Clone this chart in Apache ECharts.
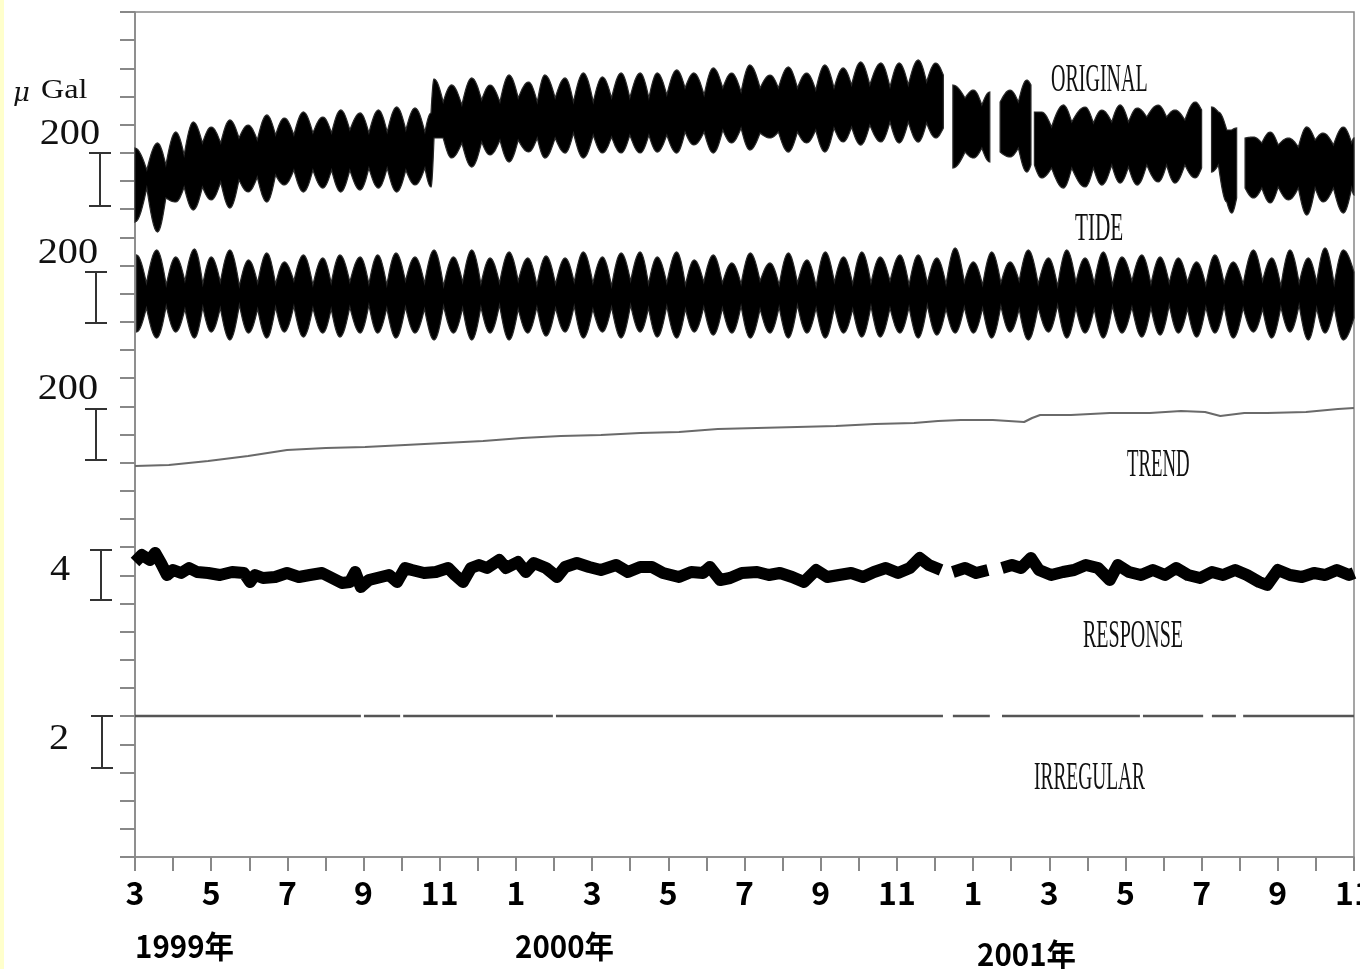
<!DOCTYPE html>
<html><head><meta charset="utf-8">
<script src="https://cdn.jsdelivr.net/npm/echarts@6/dist/echarts.min.js"></script>
<style>html,body{margin:0;padding:0;background:#fff}#c{width:1360px;height:969px}</style>
</head><body><div id="c"></div><script>
// x: months since March 1999 (0..32); y: vertical offset in plot units (0..845)
const monthLabels = ['3','5','7','9','11','1','3','5','7','9','11','1','3','5','7','9','11'];
const yearLabels = ['1999年','2000年','2001年'];
const panelNames = ['ORIGINAL','TIDE','TREND','RESPONSE','IRREGULAR'];
const unitLabel = 'Gal';
const scaleLabels = ['200','200','200','4','2'];
const scaleBarLow  = [651,534,397,257,89];
const scaleBarHigh = [704,585,448,307,141];

// ---- ORIGINAL (envelope of the record) ----
const origT = [0.00,0.31,0.59,0.81,1.07,1.29,1.53,1.77,2.00,2.25,2.49,2.73,2.97,3.21,3.46,3.69,3.92,4.17,4.42,4.67,4.93,5.16,5.40,5.64,5.91,6.14,6.39,6.62,6.87,7.11,7.35,7.61,7.77,7.85,8.09,8.31,8.58,8.84,9.10,9.32,9.58,9.82,10.06,10.33,10.56,10.76,11.03,11.29,11.51,11.77,12.03,12.27,12.51,12.76,12.99,13.26,13.49,13.71,13.96,14.22,14.44,14.67,14.94,15.18,15.43,15.66,15.91,16.14,16.41,16.67,16.89,17.15,17.39,17.63,17.87,18.11,18.35,18.59,18.81,19.05,19.29,19.58,19.82,20.06,20.30,20.56,20.78,21.02,21.22,null,21.47,21.79,22.01,22.23,22.44,null,22.71,22.97,23.19,23.41,23.52,null,23.61,23.80,24.06,24.37,24.59,24.94,25.16,25.38,25.64,25.86,26.08,26.31,26.56,26.86,27.08,27.30,27.56,27.83,28.00,null,28.26,28.44,28.66,28.79,28.92,null,29.14,29.36,29.58,29.80,30.01,30.28,30.54,30.76,30.98,31.19,31.46,31.72,31.94,32.00];
const origHi = [709,687,714,692,725,702,735,714,730,714,737,719,732,717,742,722,739,722,745,724,740,724,747,727,744,724,747,725,750,727,749,725,744,778,755,772,752,779,757,772,755,782,759,775,755,782,759,779,755,784,755,780,759,784,759,784,759,784,762,787,769,784,762,789,769,784,765,792,769,782,769,790,769,784,767,792,769,789,772,795,772,794,770,794,772,797,775,794,782,null,772,759,767,752,765,null,755,767,755,777,772,null,745,745,730,752,735,750,734,747,735,752,735,749,740,752,740,747,737,755,747,null,750,745,727,727,729,null,719,720,714,725,712,719,710,730,717,724,712,730,714,719];
const origLo = [635,669,625,659,655,670,647,670,657,675,649,677,665,680,655,682,672,687,665,687,669,687,665,687,667,689,669,689,665,687,672,689,670,719,719,699,714,690,715,702,717,695,717,705,719,699,719,704,724,699,722,704,720,704,722,704,722,705,722,704,725,712,725,704,727,714,729,707,724,719,725,705,725,714,727,705,729,715,730,712,732,715,735,714,735,715,734,719,729,null,689,705,699,709,695,null,705,700,709,685,692,null,692,679,689,669,689,670,689,672,692,674,690,672,692,675,692,674,692,679,689,null,685,692,655,644,659,null,669,659,669,654,670,657,669,642,669,655,669,644,669,662];

// ---- TIDE (fortnightly lobes and necks of the envelope) ----
const tideLobeT = [0.04,0.57,1.07,1.56,2.00,2.49,2.98,3.46,3.92,4.42,4.93,5.38,5.91,6.37,6.85,7.35,7.85,8.36,8.84,9.32,9.82,10.31,10.79,11.29,11.77,12.27,12.76,13.26,13.71,14.22,14.68,15.18,15.67,16.15,16.67,17.15,17.64,18.12,18.60,19.08,19.56,20.08,20.56,21.05,21.53,22.01,22.49,22.97,23.45,23.98,24.46,24.94,25.42,25.91,26.43,26.91,27.39,27.87,28.35,28.83,29.36,29.84,30.32,30.80,31.24,31.72];
const tideLobeHi = [602,607,600,608,600,607,597,604,595,602,599,602,600,602,604,600,607,600,607,599,605,599,601,599,605,600,604,605,600,605,597,602,594,604,594,604,597,605,600,605,600,602,602,599,609,595,605,595,607,599,607,599,605,600,602,600,599,595,602,595,607,599,607,599,609,607];
const tideLobeLo = [525,519,525,519,525,517,524,519,525,520,524,520,524,524,519,524,517,524,517,524,517,524,521,525,519,525,519,525,520,519,525,522,524,519,524,519,524,519,524,520,520,524,519,522,524,524,519,525,517,525,519,524,519,524,520,522,524,520,524,519,525,519,525,517,524,517];
const tideNeckT = [0.30,0.82,1.31,1.78,2.24,2.74,3.22,3.69,4.17,4.67,5.15,5.64,6.14,6.61,7.10,7.60,8.10,8.60,9.08,9.57,10.06,10.55,11.04,11.53,12.02,12.51,13.01,13.48,13.96,14.45,14.93,15.42,15.91,16.41,16.91,17.39,17.88,18.36,18.84,19.32,19.82,20.32,20.80,21.29,21.77,22.25,22.73,23.21,23.71,24.22,24.70,25.18,25.66,26.17,26.67,27.15,27.63,28.11,28.59,29.09,29.60,30.08,30.56,31.02,31.48,32.00];
const tideNeckHi = [574,572,576,573,575,571,574,573,576,572,574,575,573,572,576,574,571,575,573,574,576,572,573,575,574,571,576,573,574,572,575,574,573,576,572,574,571,575,573,574,576,572,574,573,575,572,574,576,573,571,575,574,572,576,573,574,575,572,574,573,576,571,574,575,573,585];
const tideNeckLo = [549,551,548,550,549,552,548,550,551,549,548,550,552,549,550,548,551,549,550,552,548,550,549,551,548,550,552,549,551,548,550,549,551,548,550,552,549,550,548,551,549,550,552,548,550,549,551,548,550,552,549,548,551,550,549,552,548,550,551,549,548,550,552,549,550,539];

// ---- TREND ----
const trendT = [0.00,0.89,1.92,2.97,3.99,5.01,6.04,7.09,8.11,9.14,10.16,11.18,12.23,13.26,14.28,15.30,16.33,17.38,18.40,19.42,20.45,21.08,21.68,22.52,23.34,23.55,23.76,24.57,25.59,26.64,27.46,28.09,28.49,29.12,29.72,30.74,31.58,32.00];
const trendV = [391,392,396,401,407,409,410,412,414,416,419,421,422,424,425,428,429,430,431,433,434,436,437,437,435,439,442,442,444,444,446,445,441,444,444,445,448,449];

// ---- RESPONSE ----
const respT = [0.00,0.18,0.39,0.53,0.68,0.84,1.00,1.21,1.42,1.63,1.92,2.23,2.55,2.86,3.02,3.15,3.36,3.68,3.99,4.30,4.59,4.91,5.12,5.43,5.64,5.78,5.93,6.14,6.46,6.67,6.88,7.09,7.27,7.59,7.90,8.22,8.40,8.61,8.82,9.03,9.24,9.56,9.74,10.05,10.26,10.47,10.79,11.08,11.29,11.60,11.92,12.23,12.63,12.94,13.26,13.57,13.86,14.28,14.60,14.91,15.09,15.36,15.62,15.93,16.33,16.64,16.93,17.25,17.56,17.88,18.17,18.48,18.80,19.11,19.40,19.71,20.03,20.34,20.60,20.84,21.16,null,21.47,21.79,22.08,22.39,null,22.76,23.02,23.26,23.52,23.73,24.05,24.36,24.65,24.96,25.28,25.59,25.80,26.09,26.41,26.72,27.04,27.33,27.64,27.96,28.27,28.56,28.88,29.19,29.51,29.72,30.00,30.32,30.63,30.95,31.24,31.55,31.87,32.00];
const respV = [295,302,297,304,294,282,287,284,289,285,284,282,285,284,275,282,279,280,284,280,282,284,280,274,275,285,270,277,280,282,275,289,287,284,285,289,282,275,289,292,289,297,289,295,285,294,289,280,290,294,290,287,292,285,290,290,284,280,285,284,290,277,279,284,285,282,284,280,275,287,280,282,284,280,285,289,284,289,299,292,287,null,285,289,284,287,null,289,292,289,299,287,282,285,287,292,289,277,292,285,282,287,282,289,282,279,285,282,287,282,275,272,287,282,280,284,282,287,282,284];

// ---- IRREGULAR ----
const irrT = [0.00,5.93,null,6.01,6.96,null,7.04,10.97,null,11.05,21.21,null,21.47,22.44,null,22.76,26.38,null,26.46,28.04,null,28.27,28.90,null,29.09,32.00];
const irrV = [141,141,null,141,141,null,141,141,null,141,141,null,141,141,null,141,141,null,141,141,null,141,141,null,141,141];

// ---------- layout / style (not data) ----------
const GRID = {left:135, top:12, width:1219, height:845};
const AXIS_COLOR = '#888';
const NUM_FONT = "'Noto Sans CJK JP',sans-serif";
const barX = [100,96,96,101,102];
const panelPos = [[1051,80,0.50],[1075,229,0.53],[1127,465,0.47],[1083,636,0.50],[1034,778,0.485]];
const scaleLabelPos = [[100,135],[98,254],[98,390],[70,571],[69,740]];
const yearPos = [[135,946],[515,946],[977,954]];

function pairs(t, v) { return t.map((x, i) => (x === null || v[i] === null) ? ['-','-'] : [x, v[i]]); }
// split envelope arrays into gap-free segments
function segmentsOf(t, hi, lo) {
  const segs = []; let cur = null;
  t.forEach((x, i) => {
    if (x === null) { cur = null; return; }
    if (!cur) { cur = {t:[], hi:[], lo:[]}; segs.push(cur); }
    cur.t.push(x); cur.hi.push(hi[i]); cur.lo.push(lo[i]);
  });
  return segs;
}
// envelope drawing: rounded towards the outer extremes, pinched at the necks (drawing only)
function envelopePts(P, outSign, steps) {
  const out = [P[0]];
  for (let i = 0; i < P.length - 1; i++) {
    const p1 = P[i], p2 = P[i+1];
    const rising = (p2[1] - p1[1]) * outSign > 0;   // moving outward
    for (let s = 1; s <= steps; s++) {
      const u = s / steps;
      const f = rising ? Math.sin(u * Math.PI / 2) : 1 - Math.cos(u * Math.PI / 2);
      out.push([p1[0] + (p2[0] - p1[0]) * u, p1[1] + (p2[1] - p1[1]) * f]);
    }
  }
  return out;
}
function bandSeries(name, segs) {
  return {
    name: name, type:'custom', silent:true, z:3,
    data: segs.map((s, i) => [s.t[0], s.hi[0], i]),
    encode: {x:0, y:1},
    renderItem: function(params, api) {
      const s = segs[params.dataIndex];
      const top = s.t.map((t, j) => api.coord([t, s.hi[j]]));
      const bot = s.t.map((t, j) => api.coord([t, s.lo[j]]));
      const pts = envelopePts(top, -1, 8).concat(envelopePts(bot, 1, 8).reverse());
      return {type:'polygon', shape:{points:pts}, style:{fill:'#000', stroke:'#2a2a2a', lineWidth:1.2}};
    }
  };
}
const tideT = [], tideHi = [], tideLo = [];
tideLobeT.forEach((t,i) => {
  tideT.push(t, tideNeckT[i]); tideHi.push(tideLobeHi[i], tideNeckHi[i]); tideLo.push(tideLobeLo[i], tideNeckLo[i]);
});

const series = [
  bandSeries('ORIGINAL', segmentsOf(origT, origHi, origLo)),
  bandSeries('TIDE', segmentsOf(tideT, tideHi, tideLo)),
  {name:'TREND', type:'line', data:pairs(trendT, trendV), symbol:'none', silent:true,
   lineStyle:{color:'#6a6a6a', width:2.2}, z:3},
  {name:'RESPONSE', type:'line', data:pairs(respT, respV), symbol:'none', silent:true,
   lineStyle:{color:'#000', width:12, join:'round'}, z:3},
  {name:'IRREGULAR', type:'line', data:pairs(irrT, irrV), symbol:'none', silent:true,
   lineStyle:{color:'#555', width:2.5}, z:3},
  {name:'scale', type:'custom', clip:false, silent:true, z:5,
   data: scaleBarLow.map((lo,i) => [i, lo, scaleBarHigh[i]]),
   encode:{x:0, y:[1,2]},
   renderItem: function(params, api) {
     const i = params.dataIndex;
     const y0 = api.coord([0, api.value(1)])[1];
     const y1 = api.coord([0, api.value(2)])[1];
     const x = barX[i], st = {stroke:'#333', lineWidth:2};
     return {type:'group', children:[
       {type:'line', shape:{x1:x, y1:y0, x2:x, y2:y1}, style:st},
       {type:'line', shape:{x1:x-11, y1:y0, x2:x+11, y2:y0}, style:st},
       {type:'line', shape:{x1:x-11, y1:y1, x2:x+11, y2:y1}, style:st}
     ]};
   }}
];

function txt(x, y, s, font, align, sx) {
  return {type:'text', x:x, y:y, scaleX:sx || 1, silent:true,
    style:{text:s, font:font, fill:'#111', align:align, verticalAlign:'middle', textAlign:align, textVerticalAlign:'middle'}};
}
const graphic = [
  {type:'rect', shape:{x:0, y:0, width:4, height:969}, style:{fill:'#FFFFCC'}, silent:true}
];
panelNames.forEach((n,i) => graphic.push(txt(panelPos[i][0], panelPos[i][1], n, '40px "Liberation Serif"', 'left', panelPos[i][2])));
scaleLabels.forEach((s,i) => graphic.push(txt(scaleLabelPos[i][0], scaleLabelPos[i][1], s, '35px "Liberation Serif"', 'right', 1.15)));
graphic.push(txt(13, 94, '\u03bc', 'italic 26px "DejaVu Serif"', 'left', 1));
graphic.push(txt(41, 91, unitLabel, '28px "Liberation Serif"', 'left', 1.15));
yearLabels.forEach((s,i) => {
  const g = txt(yearPos[i][0], yearPos[i][1], s, 'bold 31px ' + NUM_FONT, 'left', 0.95);
  g.style.fill = '#000'; graphic.push(g);
});

const chart = echarts.init(document.getElementById('c'), null, {renderer:'canvas'});
chart.setOption({
  animation:false,
  backgroundColor:'#fff',
  grid:[{left:GRID.left, top:GRID.top, width:GRID.width, height:GRID.height, show:true,
         borderColor:AXIS_COLOR, borderWidth:1.5, backgroundColor:'transparent',
         containLabel:false, outerBoundsMode:'none'}],
  xAxis:[{type:'value', min:0, max:32, interval:1,
    axisLine:{show:true, onZero:false, lineStyle:{color:AXIS_COLOR, width:1.5}},
    axisTick:{show:true, length:14, lineStyle:{color:AXIS_COLOR, width:2}},
    axisLabel:{show:true, margin:20, showMinLabel:true, showMaxLabel:true, hideOverlap:false,
      formatter: v => { const k = Math.round(v); return k % 2 === 0 ? monthLabels[k/2] : ''; },
      fontFamily:NUM_FONT, fontWeight:'bold', fontSize:32, color:'#000'},
    splitLine:{show:false}}],
  yAxis:[{type:'value', min:0, max:845, interval:845/30,
    axisLine:{show:true, onZero:false, lineStyle:{color:AXIS_COLOR, width:1.5}},
    axisTick:{show:true, length:15, lineStyle:{color:AXIS_COLOR, width:2}},
    axisLabel:{show:false}, splitLine:{show:false}}],
  graphic: graphic,
  series: series
});
</script></body></html>
